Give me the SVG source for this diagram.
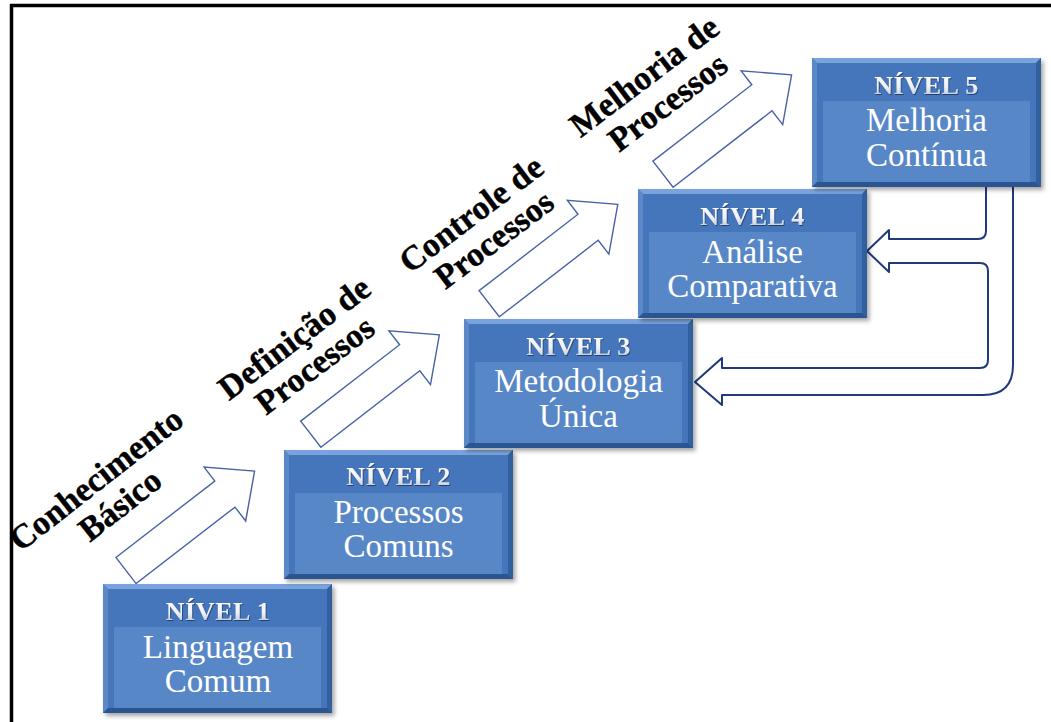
<svg xmlns="http://www.w3.org/2000/svg" xmlns:xlink="http://www.w3.org/1999/xlink" width="1051" height="722" viewBox="0 0 1051 722">
  <style>
    .step-label { font-family: "Liberation Serif", "Times New Roman", serif; font-weight: bold; font-size: 34px; fill: #000; stroke: #000; stroke-width: 0.4; text-anchor: middle; }
    .lvl-title { font-family: "Liberation Serif", "Times New Roman", serif; font-weight: bold; font-size: 26px; letter-spacing: 0.6px; fill: url(#titleFill); text-anchor: middle; filter: url(#titleShadow); }
    .lvl-text { font-family: "Liberation Serif", "Times New Roman", serif; font-size: 33px; fill: #ffffff; text-anchor: middle; }
    .up-arrow { fill: #ffffff; stroke: #4862a6; stroke-width: 1.4; stroke-linejoin: miter; }
    .back-arrow { fill: #ffffff; stroke: #1f3a7a; stroke-width: 2; stroke-linejoin: round; }
  </style>
  <defs>
    <linearGradient id="titleFill" x1="0" y1="0" x2="0" y2="1">
      <stop offset="0" stop-color="#ffffff"/>
      <stop offset="0.55" stop-color="#eef1f6"/>
      <stop offset="1" stop-color="#aeb8c8"/>
    </linearGradient>
    <filter id="titleShadow" x="-10%" y="-30%" width="120%" height="160%">
      <feDropShadow dx="0.8" dy="1" stdDeviation="0.6" flood-color="#1d3560" flood-opacity="0.8"/>
    </filter>
    <filter id="boxShadow" x="-5%" y="-5%" width="115%" height="120%">
      <feDropShadow dx="2.5" dy="3" stdDeviation="2.2" flood-color="#000" flood-opacity="0.35"/>
    </filter>
    <!-- bevelled blue level box, 229 x 129 -->
    <g id="levelBox">
      <rect x="0" y="0" width="229" height="129" fill="#4474bb"/>
      <polygon points="0,0 229,0 224,5 5,5" fill="#78a3dc"/>
      <polygon points="0,0 5,5 5,124 0,129" fill="#5b88c8"/>
      <polygon points="229,0 229,129 224,124 224,5" fill="#32609f"/>
      <polygon points="0,129 229,129 224,124 5,124" fill="#2c5590"/>
      <rect x="11" y="43" width="207" height="81" fill="#5887c8"/>
    </g>
    <!-- hollow block arrow pointing along +x -->
    <path id="stepArrow" d="M0,-16.5 H125 V-34 L162.5,0 L125,34 V16.5 H0 Z"/>
  </defs>

  <rect x="0" y="0" width="1051" height="722" fill="#ffffff"/>
  <!-- frame -->
  <path d="M11.5,722 V5.5 H1051" fill="none" stroke="#000" stroke-width="3.5"/>

  <!-- step labels -->
  <g id="label-conhecimento" transform="translate(103,488) rotate(-38)">
    <text class="step-label" x="0" y="0">Conhecimento</text>
    <text class="step-label" x="3" y="35">Básico</text>
  </g>
  <g id="label-definicao" transform="translate(301,347) rotate(-37)">
    <text class="step-label" x="0" y="0">Definição de</text>
    <text class="step-label" x="0" y="34">Processos</text>
  </g>
  <g id="label-controle" transform="translate(478,223) rotate(-37)">
    <text class="step-label" x="0" y="0">Controle de</text>
    <text class="step-label" x="3" y="34">Processos</text>
  </g>
  <g id="label-melhoria" transform="translate(651,85) rotate(-37)">
    <text class="step-label" x="0" y="0">Melhoria de</text>
    <text class="step-label" x="3" y="35">Processos</text>
  </g>

  <!-- connectors -->
  <g id="connectors">
    <use xlink:href="#stepArrow" class="up-arrow" transform="translate(126,570.5) rotate(-37.7)"/>
    <use xlink:href="#stepArrow" class="up-arrow" transform="translate(310.8,434.2) rotate(-37.7)"/>
    <use xlink:href="#stepArrow" class="up-arrow" transform="translate(489.2,303.7) rotate(-37.7)"/>
    <use xlink:href="#stepArrow" class="up-arrow" transform="translate(663,174.2) rotate(-37.7)"/>
    <!-- feedback from level 5 to levels 4 and 3 -->
    <path class="back-arrow" d="M986,180 V231 Q986,239 978,239 H889 V230 L867,251 L889,272 V263 H980 Q988,263 988,271 V360 Q988,368 980,368 H722 V358 L695,382 L722,405 V395 H983 Q1013,395 1013,365 V180"/>
  </g>

  <!-- level boxes -->
  <g id="nivel-1">
    <use xlink:href="#levelBox" x="103" y="584" filter="url(#boxShadow)"/>
    <text class="lvl-title" x="218" y="620">NÍVEL 1</text>
    <text class="lvl-text" x="218" y="658">Linguagem</text>
    <text class="lvl-text" x="218" y="692">Comum</text>
  </g>
  <g id="nivel-2">
    <use xlink:href="#levelBox" x="284" y="450" filter="url(#boxShadow)"/>
    <text class="lvl-title" x="398.5" y="485">NÍVEL 2</text>
    <text class="lvl-text" x="398.5" y="523">Processos</text>
    <text class="lvl-text" x="398.5" y="557">Comuns</text>
  </g>
  <g id="nivel-3">
    <use xlink:href="#levelBox" x="464" y="319" filter="url(#boxShadow)"/>
    <text class="lvl-title" x="578.5" y="355">NÍVEL 3</text>
    <text class="lvl-text" x="578.5" y="392">Metodologia</text>
    <text class="lvl-text" x="578.5" y="427">Única</text>
  </g>
  <g id="nivel-4">
    <use xlink:href="#levelBox" x="638" y="189" filter="url(#boxShadow)"/>
    <text class="lvl-title" x="752.5" y="225">NÍVEL 4</text>
    <text class="lvl-text" x="752.5" y="263">Análise</text>
    <text class="lvl-text" x="752.5" y="297">Comparativa</text>
  </g>
  <g id="nivel-5">
    <use xlink:href="#levelBox" x="812" y="58" filter="url(#boxShadow)"/>
    <text class="lvl-title" x="926.5" y="94">NÍVEL 5</text>
    <text class="lvl-text" x="926.5" y="131">Melhoria</text>
    <text class="lvl-text" x="926.5" y="166">Contínua</text>
  </g>
</svg>
